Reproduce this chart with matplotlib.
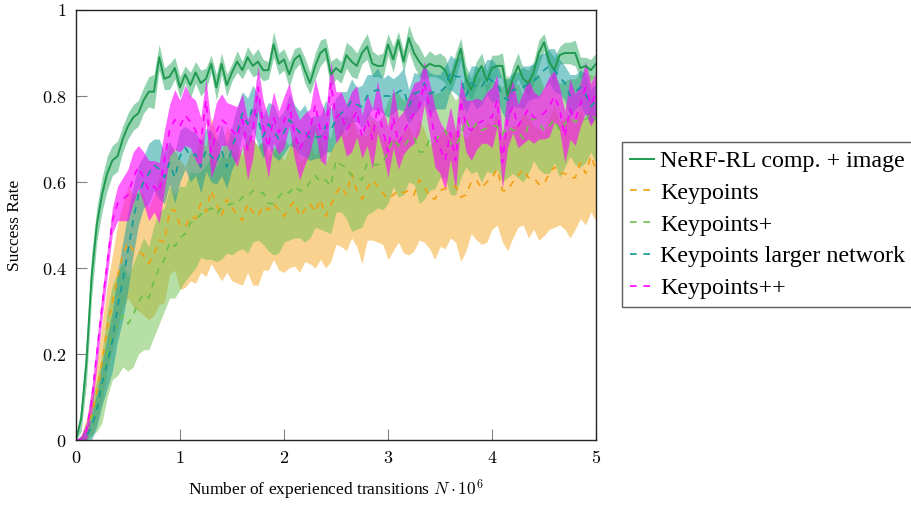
import numpy as np
import matplotlib
matplotlib.use("Agg")
import matplotlib.pyplot as plt

plt.rcParams['font.family'] = ['Liberation Serif', 'DejaVu Serif']
plt.rcParams['mathtext.fontset'] = 'cm'

# x positions: 0 .. 5 (millions of transitions), step 0.05
steps = np.arange(101) * 0.05

nerf_mean = [0.0, 0.05, 0.18, 0.38, 0.50, 0.57, 0.62, 0.65, 0.66, 0.70,
             0.73, 0.75, 0.76, 0.79, 0.81, 0.81, 0.89, 0.84, 0.845, 0.865,
             0.82, 0.85, 0.825, 0.855, 0.83, 0.84, 0.875, 0.82, 0.875, 0.825,
             0.855, 0.88, 0.86, 0.89, 0.87, 0.88, 0.86, 0.86, 0.92, 0.875,
             0.885, 0.85, 0.885, 0.895, 0.86, 0.83, 0.87, 0.90, 0.91, 0.85,
             0.865, 0.855, 0.895, 0.88, 0.87, 0.90, 0.915, 0.875, 0.87, 0.87,
             0.92, 0.885, 0.93, 0.88, 0.935, 0.90, 0.88, 0.865, 0.875, 0.87,
             0.87, 0.86, 0.83, 0.87, 0.91, 0.84, 0.815, 0.85, 0.87, 0.835,
             0.865, 0.87, 0.87, 0.80, 0.84, 0.87, 0.84, 0.83, 0.855, 0.90,
             0.925, 0.88, 0.86, 0.895, 0.90, 0.90, 0.90, 0.865, 0.87, 0.86,
             0.875]
nerf_hw = [0.0, 0.03, 0.05, 0.05, 0.04, 0.04, 0.04, 0.035, 0.035, 0.03,
           0.03, 0.03, 0.03, 0.03, 0.035, 0.04, 0.03, 0.025, 0.03, 0.025,
           0.025, 0.02, 0.03, 0.025, 0.03, 0.025, 0.02, 0.03, 0.025, 0.025,
           0.02, 0.025, 0.02, 0.025, 0.025, 0.03, 0.025, 0.02, 0.03, 0.025,
           0.025, 0.03, 0.025, 0.02, 0.03, 0.025, 0.03, 0.03, 0.025, 0.03,
           0.025, 0.025, 0.03, 0.035, 0.03, 0.025, 0.03, 0.03, 0.025, 0.03,
           0.025, 0.03, 0.02, 0.025, 0.03, 0.03, 0.035, 0.025, 0.03, 0.025,
           0.03, 0.03, 0.025, 0.03, 0.025, 0.03, 0.025, 0.03, 0.03, 0.025,
           0.03, 0.025, 0.03, 0.025, 0.03, 0.03, 0.025, 0.03, 0.025, 0.03,
           0.02, 0.025, 0.03, 0.02, 0.025, 0.025, 0.03, 0.025, 0.02, 0.025,
           0.025]

kp_mean = [0.0, 0.0, 0.02, 0.06, 0.11, 0.18, 0.26, 0.32, 0.38, 0.43,
           0.46, 0.44, 0.44, 0.43, 0.41, 0.43, 0.465, 0.46, 0.535, 0.535,
           0.50, 0.495, 0.52, 0.515, 0.55, 0.53, 0.58, 0.55, 0.52, 0.56,
           0.54, 0.525, 0.51, 0.55, 0.53, 0.52, 0.545, 0.535, 0.55, 0.535,
           0.52, 0.54, 0.555, 0.52, 0.535, 0.55, 0.53, 0.56, 0.52, 0.545,
           0.575, 0.59, 0.57, 0.62, 0.58, 0.56, 0.585, 0.605, 0.59, 0.575,
           0.56, 0.57, 0.58, 0.575, 0.58, 0.57, 0.605, 0.59, 0.565, 0.56,
           0.58, 0.585, 0.59, 0.59, 0.565, 0.57, 0.60, 0.605, 0.585, 0.60,
           0.61, 0.63, 0.58, 0.58, 0.60, 0.615, 0.63, 0.61, 0.61, 0.595,
           0.595, 0.62, 0.635, 0.62, 0.62, 0.61, 0.61, 0.645, 0.62, 0.66,
           0.63]
kp_hw = [0.0, 0.01, 0.03, 0.05, 0.07, 0.09, 0.10, 0.11, 0.12, 0.12,
         0.13, 0.13, 0.14, 0.14, 0.13, 0.14, 0.15, 0.14, 0.15, 0.14,
         0.15, 0.14, 0.15, 0.15, 0.16, 0.15, 0.17, 0.16, 0.15, 0.17,
         0.17, 0.16, 0.15, 0.16, 0.17, 0.16, 0.15, 0.14, 0.13, 0.14,
         0.13, 0.14, 0.15, 0.13, 0.12, 0.14, 0.13, 0.14, 0.12, 0.13,
         0.12, 0.14, 0.13, 0.15, 0.13, 0.15, 0.12, 0.14, 0.13, 0.12,
         0.14, 0.13, 0.12, 0.14, 0.15, 0.13, 0.14, 0.13, 0.12, 0.14,
         0.13, 0.14, 0.12, 0.13, 0.15, 0.13, 0.12, 0.14, 0.13, 0.14,
         0.12, 0.13, 0.12, 0.14, 0.13, 0.12, 0.13, 0.14, 0.12, 0.13,
         0.12, 0.13, 0.14, 0.12, 0.13, 0.14, 0.12, 0.13, 0.12, 0.13,
         0.12]

kp_plus_mean = [0.0, 0.0, 0.02, 0.05, 0.08, 0.12, 0.20, 0.25, 0.27, 0.29,
                0.27, 0.29, 0.32, 0.34, 0.33, 0.37, 0.40, 0.42, 0.46, 0.45,
                0.47, 0.48, 0.505, 0.51, 0.525, 0.53, 0.54, 0.525, 0.54, 0.545,
                0.55, 0.55, 0.565, 0.565, 0.58, 0.575, 0.575, 0.55, 0.55, 0.565,
                0.58, 0.575, 0.59, 0.58, 0.58, 0.60, 0.615, 0.60, 0.605, 0.59,
                0.65, 0.64, 0.635, 0.615, 0.61, 0.605, 0.645, 0.64, 0.64, 0.645,
                0.67, 0.70, 0.685, 0.68, 0.70, 0.705, 0.67, 0.67, 0.70, 0.695,
                0.71, 0.72, 0.69, 0.68, 0.71, 0.745, 0.72, 0.735, 0.72, 0.725,
                0.73, 0.73, 0.71, 0.73, 0.72, 0.72, 0.70, 0.73, 0.75, 0.74,
                0.72, 0.73, 0.745, 0.72, 0.735, 0.75, 0.74, 0.745, 0.745, 0.76,
                0.745]
kp_plus_hw = [0.0, 0.01, 0.02, 0.04, 0.06, 0.08, 0.10, 0.11, 0.12, 0.12,
              0.11, 0.12, 0.12, 0.13, 0.12, 0.13, 0.13, 0.12, 0.13, 0.12,
              0.12, 0.11, 0.12, 0.11, 0.10, 0.11, 0.12, 0.11, 0.12, 0.11,
              0.12, 0.11, 0.12, 0.13, 0.12, 0.11, 0.12, 0.11, 0.12, 0.13,
              0.12, 0.11, 0.12, 0.11, 0.12, 0.13, 0.12, 0.11, 0.12, 0.11,
              0.12, 0.11, 0.12, 0.13, 0.12, 0.11, 0.12, 0.11, 0.10, 0.11,
              0.12, 0.11, 0.12, 0.11, 0.10, 0.11, 0.12, 0.11, 0.12, 0.11,
              0.10, 0.11, 0.12, 0.11, 0.10, 0.11, 0.10, 0.11, 0.12, 0.10,
              0.11, 0.10, 0.11, 0.12, 0.10, 0.11, 0.10, 0.11, 0.10, 0.11,
              0.10, 0.11, 0.10, 0.11, 0.10, 0.09, 0.10, 0.11, 0.10, 0.09,
              0.10]

kp_large_mean = [0.0, 0.0, 0.01, 0.03, 0.07, 0.13, 0.18, 0.23, 0.31, 0.37,
                 0.44, 0.51, 0.57, 0.60, 0.62, 0.64, 0.63, 0.61, 0.645, 0.61,
                 0.66, 0.68, 0.66, 0.665, 0.635, 0.675, 0.66, 0.645, 0.675, 0.635,
                 0.68, 0.715, 0.76, 0.735, 0.775, 0.745, 0.705, 0.735, 0.72, 0.70,
                 0.715, 0.745, 0.73, 0.715, 0.72, 0.70, 0.705, 0.705, 0.73, 0.72,
                 0.745, 0.76, 0.77, 0.79, 0.78, 0.775, 0.80, 0.81, 0.815, 0.80,
                 0.80, 0.80, 0.81, 0.815, 0.775, 0.805, 0.81, 0.83, 0.805, 0.81,
                 0.81, 0.82, 0.855, 0.845, 0.845, 0.80, 0.83, 0.82, 0.82, 0.845,
                 0.835, 0.83, 0.80, 0.79, 0.815, 0.815, 0.82, 0.83, 0.835, 0.845,
                 0.86, 0.87, 0.86, 0.845, 0.83, 0.80, 0.81, 0.82, 0.805, 0.775,
                 0.79]
kp_large_hw = [0.0, 0.01, 0.02, 0.03, 0.04, 0.05, 0.06, 0.07, 0.08, 0.09,
               0.09, 0.08, 0.07, 0.06, 0.07, 0.06, 0.07, 0.06, 0.05, 0.06,
               0.06, 0.05, 0.06, 0.05, 0.06, 0.05, 0.06, 0.05, 0.06, 0.05,
               0.05, 0.06, 0.05, 0.06, 0.05, 0.06, 0.05, 0.05, 0.06, 0.05,
               0.05, 0.06, 0.05, 0.05, 0.06, 0.05, 0.05, 0.05, 0.06, 0.05,
               0.05, 0.05, 0.04, 0.05, 0.04, 0.05, 0.05, 0.04, 0.05, 0.04,
               0.05, 0.04, 0.04, 0.05, 0.04, 0.05, 0.04, 0.04, 0.05, 0.04,
               0.04, 0.05, 0.04, 0.04, 0.05, 0.04, 0.04, 0.05, 0.04, 0.04,
               0.05, 0.04, 0.04, 0.05, 0.04, 0.04, 0.05, 0.04, 0.04, 0.05,
               0.04, 0.04, 0.05, 0.04, 0.04, 0.05, 0.04, 0.04, 0.05, 0.04,
               0.04]

kp_pp_mean = [0.0, 0.0, 0.02, 0.09, 0.20, 0.31, 0.41, 0.51, 0.55, 0.56,
              0.57, 0.61, 0.635, 0.61, 0.58, 0.59, 0.575, 0.65, 0.72, 0.745,
              0.73, 0.755, 0.74, 0.72, 0.69, 0.79, 0.67, 0.715, 0.745, 0.735,
              0.72, 0.705, 0.745, 0.675, 0.715, 0.82, 0.73, 0.68, 0.75, 0.715,
              0.74, 0.78, 0.715, 0.675, 0.70, 0.72, 0.78, 0.72, 0.70, 0.83,
              0.75, 0.76, 0.72, 0.74, 0.765, 0.705, 0.745, 0.70, 0.775, 0.72,
              0.67, 0.75, 0.69, 0.715, 0.74, 0.76, 0.775, 0.83, 0.77, 0.705,
              0.68, 0.65, 0.715, 0.65, 0.79, 0.73, 0.72, 0.735, 0.74, 0.75,
              0.75, 0.79, 0.645, 0.75, 0.775, 0.73, 0.75, 0.77, 0.75, 0.75,
              0.76, 0.775, 0.80, 0.77, 0.705, 0.77, 0.745, 0.78, 0.82, 0.78,
              0.805]
kp_pp_hw = [0.0, 0.01, 0.02, 0.03, 0.03, 0.03, 0.03, 0.03, 0.04, 0.05,
            0.06, 0.06, 0.05, 0.06, 0.07, 0.06, 0.07, 0.07, 0.06, 0.07,
            0.06, 0.07, 0.06, 0.07, 0.06, 0.05, 0.06, 0.07, 0.06, 0.05,
            0.06, 0.07, 0.06, 0.07, 0.06, 0.05, 0.06, 0.07, 0.06, 0.05,
            0.06, 0.05, 0.06, 0.07, 0.06, 0.05, 0.06, 0.07, 0.06, 0.05,
            0.06, 0.05, 0.06, 0.07, 0.06, 0.05, 0.06, 0.07, 0.06, 0.05,
            0.06, 0.07, 0.06, 0.05, 0.06, 0.07, 0.06, 0.05, 0.06, 0.07,
            0.06, 0.07, 0.06, 0.07, 0.05, 0.06, 0.07, 0.06, 0.05, 0.06,
            0.07, 0.06, 0.06, 0.07, 0.06, 0.05, 0.06, 0.07, 0.06, 0.05,
            0.06, 0.07, 0.06, 0.05, 0.06, 0.07, 0.06, 0.05, 0.06, 0.05,
            0.05]

labels = ['NeRF-RL comp. + image', 'Keypoints', 'Keypoints+',
          'Keypoints larger network', 'Keypoints++']
series = [(nerf_mean, nerf_hw), (kp_mean, kp_hw), (kp_plus_mean, kp_plus_hw),
          (kp_large_mean, kp_large_hw), (kp_pp_mean, kp_pp_hw)]
line_colors = ['#1f9a50', '#f0a010', '#6cc04a', '#119a9a', '#ff00ff']
fill_colors = ['#2aa860', '#f5a623', '#6cc04a', '#0e9a9a', '#ff00ff']
fill_alpha = [0.5, 0.5, 0.5, 0.5, 0.6]
styles = ['-', '--', '--', '--', '--']

fig = plt.figure(figsize=(9.12, 5.05), dpi=100)
ax = fig.add_axes([0.0833, 0.1287, 0.5702, 0.8515])

for (m, hw), fc, fa in zip(series, fill_colors, fill_alpha):
    m = np.array(m)
    hw = np.array(hw)
    ax.fill_between(steps, np.clip(m - hw, 0, 1), np.clip(m + hw, 0, 1),
                    color=fc, alpha=fa, linewidth=0)

handles = []
for (m, hw), lab, lc, ls in zip(series, labels, line_colors, styles):
    if ls == '--':
        h, = ax.plot(steps, m, color=lc, lw=1.2, dashes=(4, 4), label=lab)
    else:
        h, = ax.plot(steps, m, color=lc, lw=1.4, label=lab)
    handles.append(h)

xt = [0, 1, 2, 3, 4, 5]
yt = [0, 0.2, 0.4, 0.6, 0.8, 1]
ax.set_xlim(0, 5)
ax.set_ylim(0, 1)
ax.set_xticks(xt)
ax.set_xticklabels(['$%g$' % v for v in xt])
ax.set_yticks(yt)
ax.set_yticklabels(['$%g$' % v for v in yt])
ax.tick_params(direction='in', length=8, color='#808080', labelsize=13,
               top=False, right=False, pad=7)
for s in ax.spines.values():
    s.set_color('#222222')
    s.set_linewidth(1.0)

ax.set_xlabel(r'Number of experienced transitions $N\cdot10^6$', fontsize=12.5)
ax.xaxis.set_label_coords(0.5, -0.088)
ax.set_ylabel('Success Rate', fontsize=12.5)
ax.yaxis.set_label_coords(-0.102, 0.5)

leg = fig.legend(handles=handles, labels=labels, loc='upper left',
                 bbox_to_anchor=(622 / 912, 1 - 142 / 505), fontsize=17.3,
                 frameon=True, fancybox=False, edgecolor='#333333',
                 handlelength=1.0, handletextpad=0.25, borderpad=0.35,
                 labelspacing=0.41, borderaxespad=0)
leg.get_frame().set_linewidth(1.0)

fig.savefig('out.png', dpi=100)
